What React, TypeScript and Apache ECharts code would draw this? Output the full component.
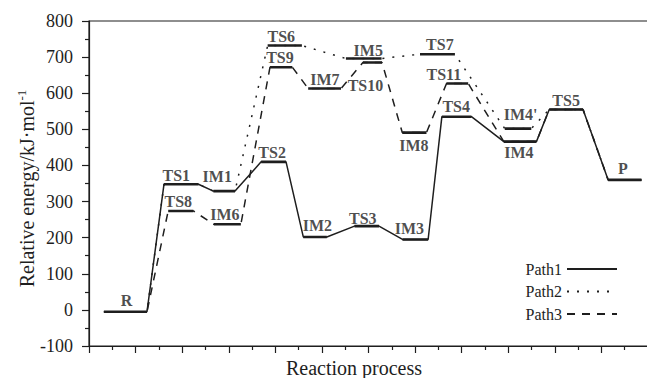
import React, { useEffect, useRef } from 'react';
import * as echarts from 'echarts';

// Energy levels (kJ/mol) and their extent along the reaction coordinate
const levelNames = ['R', 'TS1', 'IM1', 'TS2', 'IM2', 'TS3', 'IM3', 'TS4', 'IM4', 'TS5', 'P', 'TS6', 'IM5', 'TS7', "IM4'", 'TS8', 'IM6', 'TS9', 'IM7', 'TS10', 'IM8', 'TS11'];
const levelEnergy = [-5, 348, 329, 410, 202, 232, 195, 535, 466, 555, 360, 732, 696, 708, 502, 274, 237, 672, 613, 685, 491, 627];
const levelStart = [0.64, 3.22, 5.34, 7.39, 9.2, 11.4, 13.46, 15.15, 17.81, 19.76, 22.29, 7.67, 11.03, 14.21, 17.85, 3.4, 5.36, 7.77, 9.41, 11.76, 13.45, 15.35];
const levelEnd = [2.49, 4.7, 6.27, 8.46, 10.21, 12.45, 14.56, 16.42, 19.21, 21.21, 23.72, 9.14, 12.56, 15.71, 18.99, 4.48, 6.52, 8.73, 10.82, 12.58, 14.49, 16.28];

const path1 = ['R', 'TS1', 'IM1', 'TS2', 'IM2', 'TS3', 'IM3', 'TS4', 'IM4', 'TS5', 'P'];
const path2 = ['R', 'TS1', 'IM1', 'TS6', 'IM5', 'TS7', "IM4'", 'TS5', 'P'];
const path3 = ['R', 'TS8', 'IM6', 'TS9', 'IM7', 'TS10', 'IM8', 'TS11', 'IM4', 'TS5', 'P'];

const seriesNames = ['Path1', 'Path2', 'Path3'];
const yTicks = { min: -100, max: 800, step: 100 };
const xTicks = { min: 0, max: 24, step: 2 };

// label placement (pixel offsets from level centre) - layout only
const labelOffset: Record<string, number[]> = {
  R: [1, -11], TS1: [-5, -9], IM1: [-7, -15], TS2: [-1.5, -9], IM2: [2.4, -11], TS3: [-4, -7.5],
  IM3: [-6, -10.5], TS4: [-0.5, -10.4], IM4: [-1.3, 11.2], TS5: [0, -9.2], P: [-2, -11.6],
  TS6: [-3.5, -9.5], IM5: [4.5, -8], TS7: [2.4, -10], "IM4'": [2.6, -14], TS8: [-2.5, -9.4],
  IM6: [-2.4, -9.5], TS9: [-1.2, -10.2], IM7: [0.3, -9.3], TS10: [-7, 22.7], IM8: [-0.5, 12.7], TS11: [-13.5, -9.2],
};

const FONT = 'Liberation Serif';
const INK = '#1e1e1e';

function pathPoints(path: string[]) {
  const pts: number[][] = [];
  path.forEach((n) => {
    const i = levelNames.indexOf(n);
    pts.push([levelStart[i], levelEnergy[i]]);
    pts.push([levelEnd[i], levelEnergy[i]]);
  });
  return pts;
}

export default function App() {
  const ref = useRef<HTMLDivElement>(null);
  useEffect(() => {
    if (!ref.current) return;
    const chart = echarts.init(ref.current, null, { renderer: 'svg' });

    const levelData: number[][] = [];
    levelNames.forEach((_, i) => {
      levelData.push([levelStart[i], levelEnergy[i]]);
      levelData.push([levelEnd[i], levelEnergy[i]]);
      levelData.push([NaN, NaN]);
    });

    const labelData = levelNames.map((n, i) => ({
      name: n,
      value: [(levelStart[i] + levelEnd[i]) / 2, levelEnergy[i]],
      label: { offset: labelOffset[n] || [0, -10] },
    }));

    const lineBase = { type: 'line', symbol: 'none', showSymbol: false, silent: true };

    chart.setOption({
      animation: false,
      grid: {
        left: 89, top: 21, width: 559, height: 325, outerBoundsMode: 'none', containLabel: false,
        show: true, borderColor: INK, borderWidth: 1.2, backgroundColor: 'transparent',
      },
      legend: {
        data: seriesNames,
        orient: 'vertical',
        right: 24,
        top: 256,
        align: 'right',
        itemWidth: 50,
        itemHeight: 10,
        itemGap: 6.5,
        selectedMode: false,
        itemStyle: { opacity: 0 },
        textStyle: { fontFamily: FONT, fontSize: 16, color: INK },
      },
      xAxis: {
        type: 'value',
        min: xTicks.min,
        max: xTicks.max,
        interval: xTicks.step,
        name: 'Reaction process',
        nameLocation: 'middle',
        nameGap: 12,
        nameMoveOverlap: false,
        nameTextStyle: { fontFamily: FONT, fontSize: 20, color: INK, padding: [0, 29, 0, 0] },
        axisLine: { onZero: false, lineStyle: { color: INK, width: 1.2 } },
        axisTick: { show: true, length: 7, lineStyle: { color: INK, width: 1.2 } },
        minorTick: { show: true, splitNumber: 2, length: 4, lineStyle: { color: INK, width: 1.2 } },
        axisLabel: { show: false },
        splitLine: { show: false },
      },
      yAxis: {
        type: 'value',
        min: yTicks.min,
        max: yTicks.max,
        interval: yTicks.step,
        name: 'Relative energy/kJ·mol{sup|-1}',
        nameLocation: 'middle',
        nameGap: 51,
        nameRotate: 90,
        nameMoveOverlap: false,
        nameTextStyle: {
          fontFamily: FONT, fontSize: 20, color: INK, padding: [0, 10, 0, 0],
          rich: { sup: { fontFamily: FONT, fontSize: 13, color: INK, verticalAlign: 'top', padding: [0, 0, 10, 0] } },
        },
        axisLine: { lineStyle: { color: INK, width: 1.2 } },
        axisTick: { show: true, length: 7, lineStyle: { color: INK, width: 1.2 } },
        minorTick: { show: true, splitNumber: 2, length: 4, lineStyle: { color: INK, width: 1.2 } },
        axisLabel: { fontFamily: FONT, fontSize: 18, color: INK, margin: 16 },
        splitLine: { show: false },
      },
      series: [
        { ...lineBase, name: 'Path3', data: pathPoints(path3), lineStyle: { color: INK, width: 1.5, type: [8, 7] }, itemStyle: { color: INK } },
        { ...lineBase, name: 'Path2', data: pathPoints(path2), lineStyle: { color: INK, width: 1.5, type: [2, 8] }, itemStyle: { color: INK } },
        { ...lineBase, name: 'Path1', data: pathPoints(path1), lineStyle: { color: INK, width: 1.5, type: 'solid' }, itemStyle: { color: INK } },
        { ...lineBase, name: 'levels', data: levelData, connectNulls: false, lineStyle: { color: INK, width: 2.6, type: 'solid' } },
        {
          type: 'scatter',
          name: 'labels',
          symbolSize: 0,
          silent: true,
          data: labelData,
          label: {
            show: true,
            position: 'inside',
            formatter: '{b}',
            fontFamily: FONT,
            fontWeight: 'bold',
            fontSize: 16,
            color: INK,
          },
        },
      ],
    });
    return () => chart.dispose();
  }, []);
  return <div ref={ref} style={{ position: 'fixed', left: 0, top: 0, width: 647, height: 378, background: '#fff' }} />;
}
